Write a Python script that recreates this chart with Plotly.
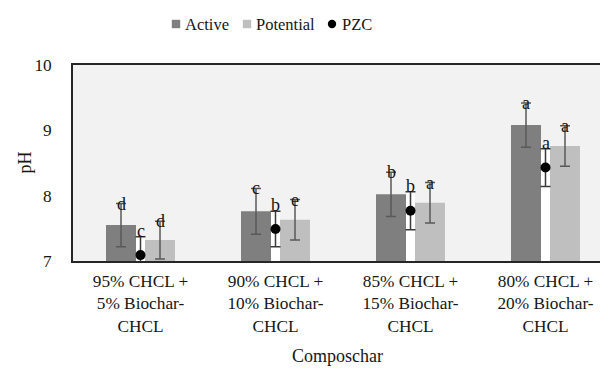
import plotly.graph_objects as go

# pH of the compost blends: active and potential acidity plus point of zero charge
categories = [
    "95% CHCL +<br>5% Biochar-<br>CHCL",
    "90% CHCL +<br>10% Biochar-<br>CHCL",
    "85% CHCL +<br>15% Biochar-<br>CHCL",
    "80% CHCL +<br>20% Biochar-<br>CHCL",
]
active = [7.55, 7.76, 8.02, 9.08]
active_err = [0.33, 0.35, 0.34, 0.34]
active_letters = ["d", "c", "b", "a"]

potential = [7.32, 7.63, 7.89, 8.76]
potential_err = [0.29, 0.31, 0.31, 0.31]
potential_letters = ["d", "e", "a", "a"]

pzc = [7.09, 7.49, 7.77, 8.43]
pzc_err = [0.28, 0.27, 0.29, 0.29]
pzc_letters = ["c", "b", "b", "a"]

y_ticks = [7, 8, 9, 10]

# page geometry (pixels)
W, H = 600, 370
M_L, M_R, M_T, M_B = 73, 0, 65, 109
PLOT_W = W - M_L - M_R
PLOT_H = H - M_T - M_B
CAT_PX = 135  # width of one category slot


def px_x(px):
    return (px - M_L) / PLOT_W


def px_y(py):
    return (M_T + PLOT_H - py) / PLOT_H


FONT = "Liberation Serif"
TXT = "#161616"
C_ACTIVE = "#7f7f7f"
C_POT = "#bfbfbf"
C_ERR = "#595959"

bar_w = 30 / CAT_PX
gap = 9 / CAT_PX
off_active = -(bar_w + gap / 2)
off_pot = gap / 2

fig = go.Figure()

# white strip behind the PZC whiskers
fig.add_trace(go.Bar(
    x=categories, y=[p + e for p, e in zip(pzc, pzc_err)],
    width=gap, offset=-gap / 2, marker=dict(color="white", line=dict(width=0)),
    showlegend=False, hoverinfo="skip",
))
fig.add_trace(go.Bar(
    name="Active", x=categories, y=active, width=bar_w, offset=off_active,
    marker=dict(color=C_ACTIVE, line=dict(width=0)),
    error_y=dict(type="data", array=active_err, color=C_ERR, thickness=1.5, width=5),
))
fig.add_trace(go.Bar(
    name="Potential", x=categories, y=potential, width=bar_w, offset=off_pot,
    marker=dict(color=C_POT, line=dict(width=0)),
    error_y=dict(type="data", array=potential_err, color=C_ERR, thickness=1.5, width=5),
))
fig.add_trace(go.Scatter(
    name="PZC", x=categories, y=pzc, mode="markers",
    marker=dict(color="black", size=10),
    error_y=dict(type="data", array=pzc_err, color="#3a3a3a", thickness=1.5, width=5),
))

annotations = []
# significance letters at the whisker tops
for i in range(len(categories)):
    annotations.append(dict(
        x=i + off_active + bar_w / 2, y=active[i] + active_err[i], xref="x", yref="y",
        text=active_letters[i], showarrow=False, yanchor="middle",
        font=dict(family=FONT, size=18, color=TXT),
    ))
    annotations.append(dict(
        x=i + off_pot + bar_w / 2, y=potential[i] + potential_err[i], xref="x", yref="y",
        text=potential_letters[i], showarrow=False, yanchor="middle",
        font=dict(family=FONT, size=18, color=TXT),
    ))
    annotations.append(dict(
        x=i, y=pzc[i] + pzc_err[i], xref="x", yref="y", yshift=6,
        text=pzc_letters[i], showarrow=False, yanchor="middle",
        font=dict(family=FONT, size=18, color=TXT),
    ))

# axis titles
annotations.append(dict(
    x=px_x(24.5), y=0.5, xref="paper", yref="paper", text="pH", textangle=-90,
    showarrow=False, xanchor="center", yanchor="middle",
    font=dict(family=FONT, size=18, color=TXT),
))
annotations.append(dict(
    x=px_x(337), y=px_y(356), xref="paper", yref="paper", text="Composchar",
    showarrow=False, xanchor="center", yanchor="middle",
    font=dict(family=FONT, size=18, color=TXT),
))

# legend row
shapes = []
legend_items = [
    ("Active", C_ACTIVE, "rect", 176, 183),
    ("Potential", C_POT, "rect", 247, 254),
    ("PZC", "black", "circle", 332, 340),
]
ly = px_y(24)
for label, color, kind, cx, tx in legend_items:
    shapes.append(dict(
        type=kind, xref="paper", yref="paper", xsizemode="pixel", ysizemode="pixel",
        xanchor=px_x(cx), yanchor=ly, x0=-4.2, x1=4.2, y0=-4.2, y1=4.2,
        fillcolor=color, line=dict(width=0),
    ))
    annotations.append(dict(
        x=px_x(tx), y=ly, xref="paper", yref="paper", text=label, showarrow=False,
        xanchor="left", yanchor="middle", font=dict(family=FONT, size=16.5, color=TXT),
    ))

fig.update_layout(
    width=W, height=H,
    margin=dict(l=M_L, r=M_R, t=M_T, b=M_B, pad=0),
    paper_bgcolor="white", plot_bgcolor="#f2f2f2",
    barmode="overlay", showlegend=False,
    font=dict(family=FONT, size=17, color=TXT),
    annotations=annotations, shapes=shapes,
    xaxis=dict(
        range=[-0.5, -0.5 + PLOT_W / CAT_PX], showline=True, mirror=True,
        linecolor="#262626", linewidth=1.75, ticks="", showgrid=False,
        tickfont=dict(family=FONT, size=17.3, color=TXT), automargin=False,
        ticklabelstandoff=3,
    ),
    yaxis=dict(
        range=[7, 10], tickvals=y_ticks, showline=True, mirror=False,
        linecolor="#262626", linewidth=1.75, ticks="", showgrid=False,
        zeroline=False, tickfont=dict(family=FONT, size=17.3, color=TXT),
        automargin=False, ticklabelstandoff=16,
    ),
)

fig.write_html("out.html")
